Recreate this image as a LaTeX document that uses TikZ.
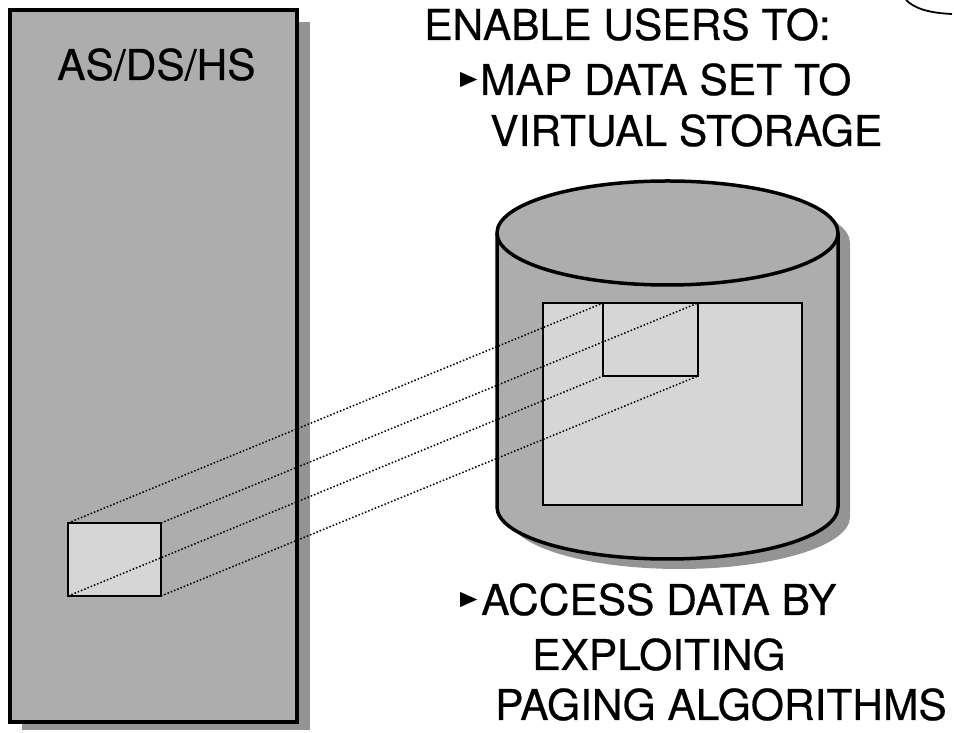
\documentclass[tikz,border=0pt]{standalone}
\usepackage{fontspec}
\setmainfont{TeX Gyre Heros}
\newfontfamily\slidefont[FakeBold=0.5]{TeX Gyre Heros}
\usetikzlibrary{calc}
\definecolor{halftone}{gray}{0.68}
\definecolor{lighttone}{gray}{0.84}
\definecolor{shadowtone}{gray}{0.58}
\tikzset{
  panel/.style={ % the address space column
    draw, line width=3.5pt, rectangle, fill=halftone,
    inner sep=0pt, outer sep=0pt, anchor=south west
  },
  page/.style={ % a page sized window, lighter tone
    draw, line width=2.6pt, rectangle, fill=lighttone,
    inner sep=0pt, outer sep=0pt, anchor=south west
  },
  dropshadow/.style={fill=shadowtone, draw=none},
  mapline/.style={ % dotted mapping line
    dash pattern=on 1.5pt off 2pt, line width=1.5pt
  },
  caption/.style={
    inner sep=0pt, anchor=base west, font=\slidefont\fontsize{42.5}{48}\selectfont
  }
}
% small bullet triangle in front of a list item
\newcommand{\tribullet}{\tikz[baseline=-8pt]\fill (0pt,0pt) -- (17pt,7.5pt) -- (0pt,15pt) -- cycle;}

\begin{document}
\begin{tikzpicture}[x=1pt, y=1pt]
  \useasboundingbox (0,0) rectangle (954,733);

  % address space column with its shadow
  \fill[dropshadow] (22,3) rectangle (310,711);
  \node[panel, minimum width=287pt, minimum height=712pt] (space) at (10,11) {};
  \node[caption] (space_label) at (57,653) {AS/DS/HS};
  \node[page, minimum width=93pt, minimum height=73pt] (page) at (68,137) {};

  % the DASD volume
  \begin{scope}[shift={(12,-10)}]
    \fill[dropshadow] (497,500) -- (497,226)
      arc[start angle=180, end angle=360, x radius=170.5, y radius=52]
      -- (838,500)
      arc[start angle=0, end angle=180, x radius=170.5, y radius=52] -- cycle;
  \end{scope}
  \draw[line width=3.5pt, fill=halftone, line join=round] (497,500) -- (497,226)
    arc[start angle=180, end angle=360, x radius=170.5, y radius=52]
    -- (838,500)
    arc[start angle=0, end angle=180, x radius=170.5, y radius=52] -- cycle;
  \draw[line width=3.5pt] (497,500)
    arc[start angle=180, end angle=360, x radius=170.5, y radius=52];

  \node[page, minimum width=259pt, minimum height=202pt] (dataset) at (543,228) {};
  \node[page, minimum width=95pt, minimum height=73pt] (window) at (603,357) {};

  % page <-> window mapping
  \draw[mapline] (page.north west) -- (window.north west);
  \draw[mapline] (page.north east) -- (window.north east);
  \draw[mapline] (page.south west) -- (window.south west);
  \draw[mapline] (page.south east) -- (window.south east);

  % text
  \node[caption] (goal) at (424,693) {ENABLE USERS TO:};
  \node[caption] (item_map) at (460,638) {\tribullet\hspace{3pt}MAP DATA SET TO};
  \node[caption] (item_map2) at (490,587) {VIRTUAL STORAGE};
  \node[caption] (item_access) at (460,118) {\tribullet\hspace{4pt}ACCESS DATA BY};
  \node[caption] (item_access2) at (532,63) {EXPLOITING};
  \node[caption] (item_access3) at (495,13) {PAGING ALGORITHMS};

  % corner of the logo
  \draw[line width=1.8pt] (906,733) .. controls (915,724) and (930,720) .. (952,719);
\end{tikzpicture}
\end{document}
